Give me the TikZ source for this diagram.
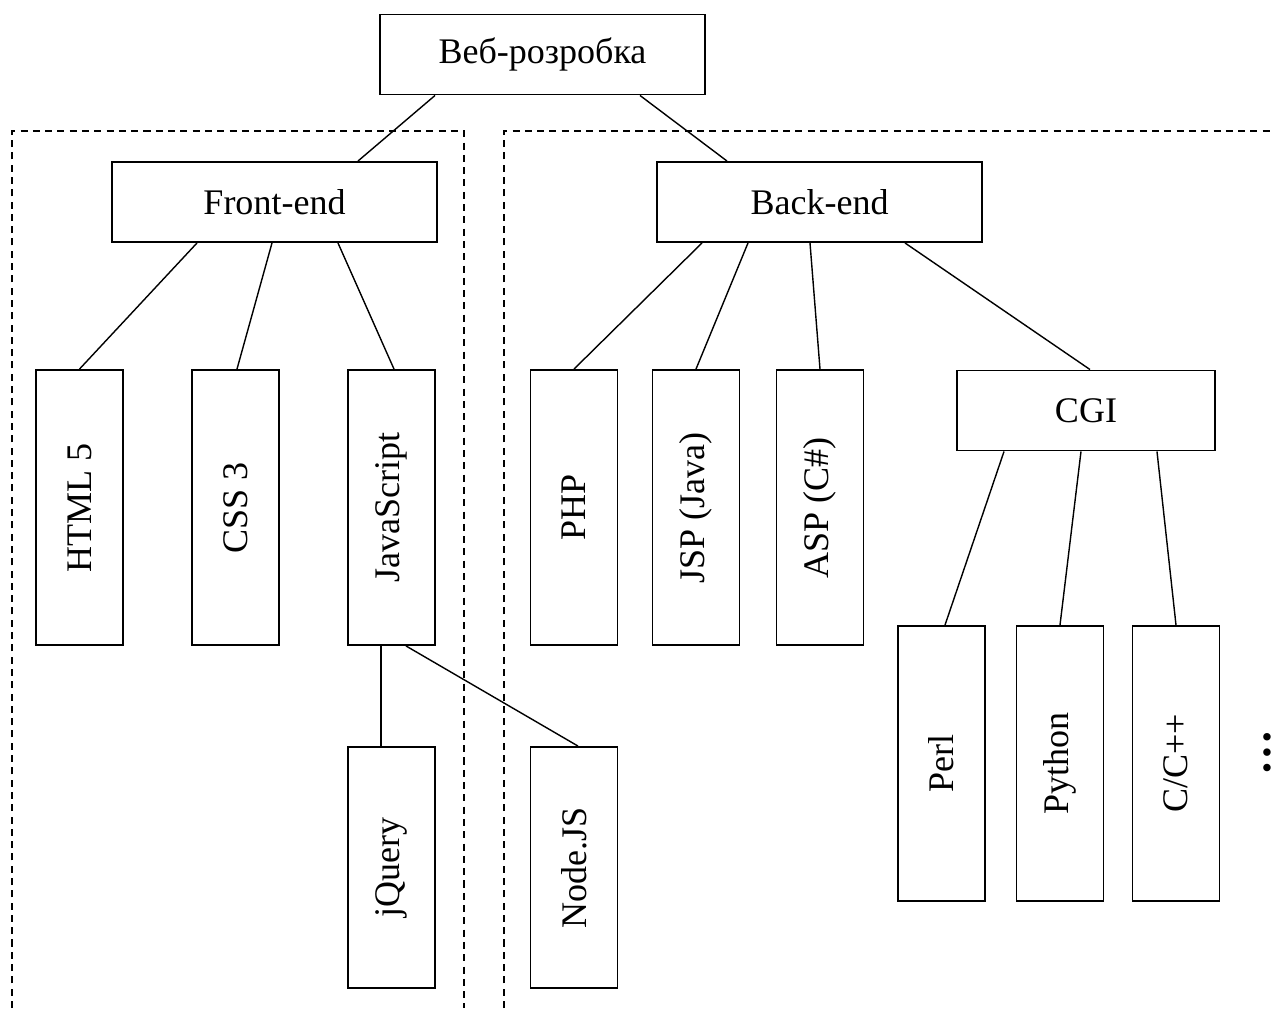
\documentclass[tikz,border=0pt]{standalone}
\usepackage{fontspec}
\setmainfont{Liberation Serif}
\usepackage{tikz}
\tikzstyle{hbox}=[draw, rectangle, line width=1.1pt, inner sep=0pt, minimum width=6.5cm, minimum height=1.6cm]
\tikzstyle{vbox}=[draw, rectangle, line width=1.1pt, inner sep=0pt, minimum width=1.74cm, minimum height=5.5cm]
\tikzstyle{edge} = [draw,line width=0.8pt,-]
\tikzstyle{group} = [draw,line width=0.8pt,dash pattern=on 4pt off 3pt]

\begin{document}
\begin{tikzpicture}[x=0.02cm, y=-0.02cm, node font=\fontsize{20.5}{24}\selectfont]
		\useasboundingbox (0,0) rectangle (1275,1008);
		% First the dashed areas
		\path[group] (12,1008) -- (12,131) -- (464,131) -- (464,1008);
		\path[group] (504,1008) -- (504,131) -- (1290,131);
		
		% Then the flat boxes
		\node[hbox] (web) at (542.5,54.5) {Веб-розробка};
		\foreach \pos/\label/\name in {
			{(274.5,202)/fe/Front-end}, {(819.5,202)/be/Back-end}}
		\node[hbox] (\label) at \pos {\name};
		\node[hbox, minimum width=5.16cm] (cgi) at (1086,410.5) {CGI};
		
		% Boxes with upright text
		\foreach \pos/\label/\name in {
			{(79.5,507.5)/html/HTML 5}, {(235.5,507.5)/css/CSS 3}, {(391.5,507.5)/js/JavaScript},
			{(574,507.5)/php/PHP}, {(696,507.5)/jsp/JSP (Java)}, {(820,507.5)/asp/ASP (C\#)},
			{(941.5,763.5)/perl/Perl}, {(1060,763.5)/python/Python}, {(1176,763.5)/cpp/{C/C++}}}
		\node[vbox] (\label) at \pos {\rotatebox{90}{\name}};
		
		\foreach \pos/\label/\name in {
			{(391.5,867.5)/jquery/jQuery}, {(574,867.5)/nodejs/Node.JS}}
		\node[vbox, minimum height=4.82cm] (\label) at \pos {\rotatebox{90}{\name}};
		
		\node[inner sep=0pt] (more) at (1267,753) {\rotatebox{90}{\fontsize{26}{30}\selectfont\textbf{…}}};
		
		% Connect boxes with edges
		\foreach \source/\sx/\dest/\dx in {
			web/-2.15/fe/1.67, web/1.95/be/-1.85,
			fe/-1.55/html/0, fe/-0.05/css/0.03, fe/1.27/js/0.05,
			be/-2.35/php/0, be/-1.43/jsp/0, be/-0.19/asp/0, be/1.71/cgi/0.08,
			cgi/-1.64/perl/0.07, cgi/-0.1/python/0, cgi/1.42/cpp/0,
			js/-0.21/jquery/-0.21, js/0.29/nodejs/0.08}
		\path[edge] ([xshift=\sx cm]\source.south) -- ([xshift=\dx cm]\dest.north);
		\end{tikzpicture}
\end{document}
